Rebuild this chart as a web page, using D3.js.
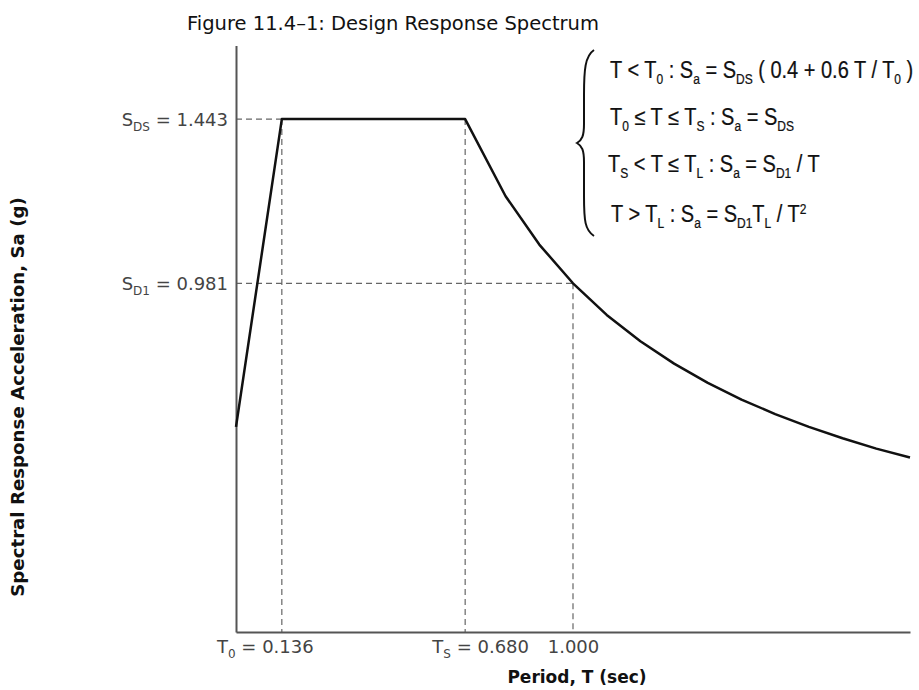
<!DOCTYPE html>
<html>
<head>
<meta charset="utf-8">
<script src="https://cdn.jsdelivr.net/npm/d3@7/dist/d3.min.js"></script>
<style>
  html, body { margin: 0; padding: 0; background: #fff; }
  svg { display: block; }
</style>
</head>
<body>
<div id="chart"></div>
<script>
// ---- data ----
const periods = [0, 0.136, 0.68, 0.8, 0.9, 1.0, 1.1, 1.2, 1.3, 1.4, 1.5, 1.6, 1.7, 1.8, 1.9, 2.0];
const spectralAccel = [0.577, 1.443, 1.443, 1.226, 1.090, 0.981, 0.892, 0.818, 0.755, 0.701, 0.654, 0.613, 0.577, 0.545, 0.516, 0.491];

const yTickValues = [1.443, 0.981];
const yTickSymbols = ["S", "S"];
const yTickSubs = ["DS", "D1"];
const yTickLabels = ["1.443", "0.981"];

const xTickValues = [0.136, 0.680, 1.000];
const xTickSymbols = ["T", "T", ""];
const xTickSubs = ["0", "S", ""];
const xTickLabels = ["0.136", "0.680", "1.000"];

const titleText = "Figure 11.4\u20131: Design Response Spectrum";
const xLabel = "Period, T (sec)";
const yLabel = "Spectral Response Acceleration, Sa (g)";

// equation lines: arrays of [text, kind] (0 normal, 1 subscript, 2 superscript)
const equations = [
  [["T < T",0],["0",1],[" : S",0],["a",1],[" = S",0],["DS",1],[" ( 0.4 + 0.6 T / T",0],["0",1],[" )",0]],
  [["T",0],["0",1],[" \u2264 T \u2264 T",0],["S",1],[" : S",0],["a",1],[" = S",0],["DS",1]],
  [["T",0],["S",1],[" < T \u2264 T",0],["L",1],[" : S",0],["a",1],[" = S",0],["D1",1],[" / T",0]],
  [["T > T",0],["L",1],[" : S",0],["a",1],[" = S",0],["D1",1],["T",0],["L",1],[" / T",0],["2",2]]
];

// ---- chart ----
const W = 919, H = 690;
const svg = d3.select("#chart").append("svg").attr("width", W).attr("height", H);

const x = d3.scaleLinear().domain([0, 2]).range([236, 910]);
const y = d3.scaleLinear().domain([0, 1.65]).range([632, 45.5]);

const axisColor = "#555";
const labelColor = "#444";

// title
svg.append("text")
  .attr("x", 393).attr("y", 30)
  .attr("text-anchor", "middle")
  .attr("font-family", "DejaVu Sans")
  .attr("font-size", 19.5)
  .attr("fill", "#111")
  .text(titleText);

// dashed guide lines
const dash = "6,4";
const guides = svg.append("g").attr("stroke", "#666").attr("stroke-width", 1.2).attr("stroke-dasharray", dash).attr("fill", "none");
guides.append("line").attr("x1", x(0)).attr("x2", x(xTickValues[0])).attr("y1", y(yTickValues[0])).attr("y2", y(yTickValues[0]));
guides.append("line").attr("x1", x(0)).attr("x2", x(xTickValues[2])).attr("y1", y(yTickValues[1])).attr("y2", y(yTickValues[1]));
guides.append("line").attr("x1", x(xTickValues[0])).attr("x2", x(xTickValues[0])).attr("y1", y(yTickValues[0])).attr("y2", y(0));
guides.append("line").attr("x1", x(xTickValues[1])).attr("x2", x(xTickValues[1])).attr("y1", y(yTickValues[0])).attr("y2", y(0));
guides.append("line").attr("x1", x(xTickValues[2])).attr("x2", x(xTickValues[2])).attr("y1", y(yTickValues[1])).attr("y2", y(0));

// axes
const xAxis = svg.append("g").attr("transform", `translate(0,${y(0)})`)
  .call(d3.axisBottom(x).tickValues(xTickValues).tickSize(0).tickPadding(8).tickFormat(""));
const yAxis = svg.append("g").attr("transform", `translate(${x(0)},0)`)
  .call(d3.axisLeft(y).tickValues(yTickValues).tickSize(0).tickPadding(8).tickFormat(""));

[xAxis, yAxis].forEach(g => {
  g.select(".domain").attr("stroke", axisColor).attr("stroke-width", 2);
  g.selectAll(".tick line").remove();
});

const xNudge = [-17, 15, 0];
xAxis.selectAll(".tick text").each(function(d, i) {
  const t = d3.select(this)
    .attr("font-family", "DejaVu Sans").attr("font-size", 18).attr("fill", labelColor)
    .attr("text-anchor", "middle").attr("dy", null).attr("y", 21).attr("dx", xNudge[i]);
  t.text(null);
  if (xTickSymbols[i]) {
    t.append("tspan").text(xTickSymbols[i]);
    t.append("tspan").attr("font-size", 12).attr("dy", 5).text(xTickSubs[i]);
    t.append("tspan").attr("dy", -5).text(" = " + xTickLabels[i]);
  } else {
    t.append("tspan").text(xTickLabels[i]);
  }
});

yAxis.selectAll(".tick text").each(function(d, i) {
  const t = d3.select(this)
    .attr("font-family", "DejaVu Sans").attr("font-size", 18).attr("fill", labelColor)
    .attr("text-anchor", "end").attr("dy", "0.36em");
  t.text(null);
  t.append("tspan").text(yTickSymbols[i]);
  t.append("tspan").attr("font-size", 12).attr("dy", 5).text(yTickSubs[i]);
  t.append("tspan").attr("dy", -5).text(" = " + yTickLabels[i]);
});

// curve
const pts = periods.map((p, i) => [p, spectralAccel[i]]);
svg.append("path")
  .datum(pts)
  .attr("fill", "none")
  .attr("stroke", "#111")
  .attr("stroke-width", 2.5)
  .attr("stroke-linejoin", "round")
  .attr("d", d3.line().x(d => x(d[0])).y(d => y(d[1])));

// axis labels
svg.append("text")
  .attr("x", 577).attr("y", 683)
  .attr("text-anchor", "middle")
  .attr("font-family", "DejaVu Sans").attr("font-weight", "bold").attr("font-size", 17)
  .attr("fill", "#111")
  .text(xLabel);

svg.append("text")
  .attr("transform", "translate(24,397) rotate(-90)")
  .attr("text-anchor", "middle")
  .attr("font-family", "DejaVu Sans").attr("font-weight", "bold").attr("font-size", 18.2)
  .attr("fill", "#111")
  .text(yLabel);

// brace
svg.append("path")
  .attr("d", "M 594 50 C 585 56, 584 70, 584 95 L 584 124 C 584 136, 582 140, 577 143 C 582 146, 584 150, 584 162 L 584 196 C 584 221, 585 230, 594 236")
  .attr("fill", "none").attr("stroke", "#111").attr("stroke-width", 2);

// equations
const eqX = [610, 610, 608, 611];
const eqY = [78, 125, 172, 222];
equations.forEach((parts, li) => {
  const t = svg.append("text")
    .attr("transform", `translate(${eqX[li]},${eqY[li]}) scale(1,1.15)`)
    .attr("font-family", "Liberation Sans").attr("font-size", 20)
    .attr("fill", "#111").attr("stroke", "#111").attr("stroke-width", 0.2);
  let shift = 0;
  parts.forEach(([s, kind]) => {
    const target = kind === 1 ? 5 : kind === 2 ? -7 : 0;
    t.append("tspan")
      .attr("font-size", kind ? 12 : 20)
      .attr("dy", target - shift)
      .text(s);
    shift = target;
  });
});
</script>
</body>
</html>
